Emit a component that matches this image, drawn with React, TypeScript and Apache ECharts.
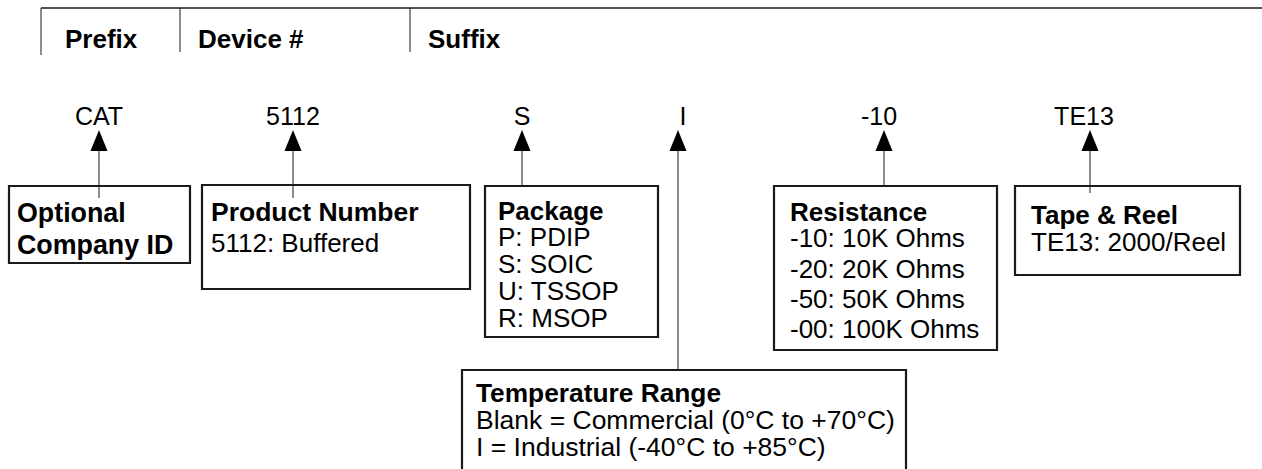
import React, { useEffect, useRef } from "react";
import * as echarts from "echarts";

// ---------- content ----------
const headerLabels = ["Prefix", "Device #", "Suffix"];
const codeLabels = ["CAT", "5112", "S", "I", "-10", "TE13"];

const boxTitles = [
  "Optional",
  "Product Number",
  "Package",
  "Resistance",
  "Tape & Reel",
  "Temperature Range",
];
const boxLines: string[][] = [
  ["Company ID"],
  ["5112: Buffered"],
  ["P: PDIP", "S: SOIC", "U: TSSOP", "R: MSOP"],
  ["-10: 10K Ohms", "-20: 20K Ohms", "-50: 50K Ohms", "-00: 100K Ohms"],
  ["TE13: 2000/Reel"],
  ["Blank = Commercial (0°C to +70°C)", "I = Industrial (-40°C to +85°C)"],
];
// first box's second line is bold too
const boxLinesBold = [true, false, false, false, false, false];

// ---------- layout ----------
const FONT = '"Liberation Sans", Arial, Helvetica, sans-serif';
const INK = "#000";
const LINE = "#1a1a1a";
const headerX = [65, 198, 428];
const headerY = 39;
const dividerX = [41, 180, 410];
const dividerBottom = [55, 52, 52];
const codeX = [99, 293, 522, 683, 879, 1084];
const codeY = 116;
const arrowX = [99, 293, 522, 678, 884, 1090];
const arrowEnd = [198, 198, 186, 370, 186, 193];
const boxRects = [
  [9, 186, 181, 77],
  [202, 185, 268, 104],
  [485, 186, 173, 151],
  [774, 186, 223, 164],
  [1015, 186, 225, 89],
  [462, 370, 444, 130],
];
const textLeft = [17, 211, 498, 790, 1031, 476];
const titleY = [213, 212, 211, 212, 215, 393];
const titleSize = [26.8, 26.5, 26, 26, 26, 26.3];
const lineSize = [26.8, 26, 26, 26, 26, 26.5];
const lineYs = [
  [245],
  [243],
  [237, 264, 291, 318],
  [238, 269, 299, 329],
  [242],
  [420, 447],
];

export default function App() {
  const ref = useRef<HTMLDivElement>(null);
  useEffect(() => {
    document.body.style.margin = "0";
    const chart = echarts.init(ref.current!, undefined, { renderer: "svg" });
    const els: any[] = [];

    els.push({
      type: "line",
      shape: { x1: 41, y1: 8, x2: 1262, y2: 8 },
      style: { stroke: LINE, lineWidth: 1.5 },
    });
    dividerX.forEach((x, i) => {
      els.push({
        type: "line",
        shape: { x1: x, y1: 8, x2: x, y2: dividerBottom[i] },
        style: { stroke: LINE, lineWidth: 1 },
      });
    });
    headerLabels.forEach((t, i) => {
      els.push({
        type: "text",
        style: {
          text: t,
          x: headerX[i],
          y: headerY,
          font: `bold 26px ${FONT}`,
          fill: INK,
          textAlign: "left",
          textVerticalAlign: "middle",
        },
      });
    });
    codeLabels.forEach((t, i) => {
      els.push({
        type: "text",
        style: {
          text: t,
          x: codeX[i],
          y: codeY,
          font: `25px ${FONT}`,
          fill: INK,
          textAlign: "center",
          textVerticalAlign: "middle",
        },
      });
      const ax = arrowX[i];
      els.push({
        type: "polygon",
        shape: { points: [[ax, 130], [ax - 8.5, 151], [ax + 8.5, 151]] },
        style: { fill: INK },
      });
      els.push({
        type: "line",
        shape: { x1: ax, y1: 150, x2: ax, y2: arrowEnd[i] },
        style: { stroke: LINE, lineWidth: 1 },
      });
    });
    boxRects.forEach((r, i) => {
      els.push({
        type: "rect",
        shape: { x: r[0], y: r[1], width: r[2], height: r[3] },
        style: { fill: "none", stroke: LINE, lineWidth: 2.2 },
      });
      els.push({
        type: "text",
        style: {
          text: boxTitles[i],
          x: textLeft[i],
          y: titleY[i],
          font: `bold ${titleSize[i]}px ${FONT}`,
          fill: INK,
          textAlign: "left",
          textVerticalAlign: "middle",
        },
      });
      boxLines[i].forEach((t, j) => {
        els.push({
          type: "text",
          style: {
            text: t,
            x: textLeft[i],
            y: lineYs[i][j],
            font: `${boxLinesBold[i] ? "bold " : ""}${lineSize[i]}px ${FONT}`,
            fill: INK,
            textAlign: "left",
            textVerticalAlign: "middle",
          },
        });
      });
    });

    chart.setOption({
      animation: false,
      backgroundColor: "#fff",
      graphic: { elements: els },
    });
    return () => chart.dispose();
  }, []);
  return <div ref={ref} style={{ width: 1262, height: 469 }} />;
}
